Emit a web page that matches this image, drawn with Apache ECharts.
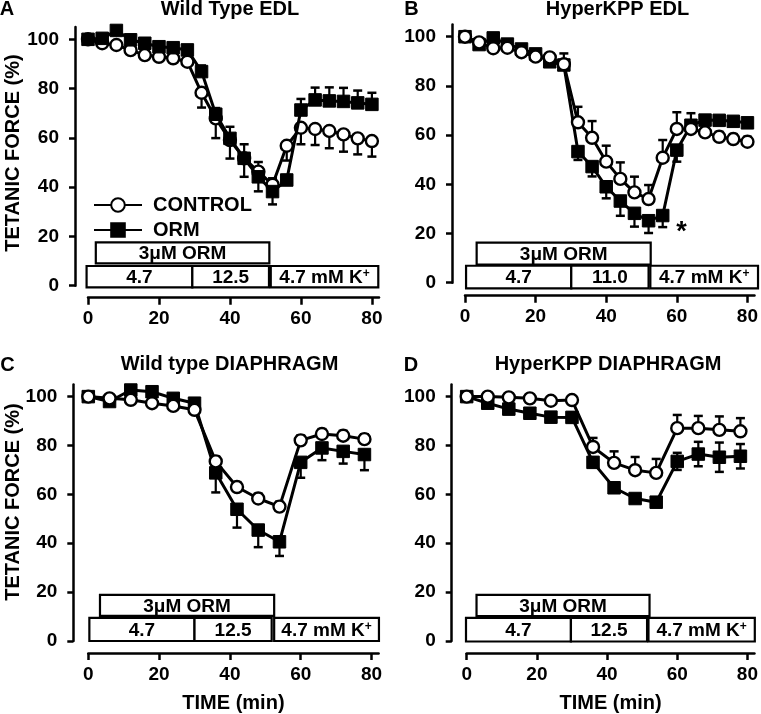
<!DOCTYPE html>
<html><head><meta charset="utf-8">
<script src="https://cdn.jsdelivr.net/npm/echarts@6/dist/echarts.min.js"></script>
<style>html,body{margin:0;padding:0;background:#fff}#c{width:761px;height:714px}</style>
</head><body><div id="c"></div>
<script>
// ---------- DATA ----------
const timeEDL = [0,4,8,12,16,20,24,28,32,36,40,44,48,52,56,60,64,68,72,76,80];
const timeDia = [0,6,12,18,24,30,36,42,48,54,60,66,72,78];

const yTicks = [0,20,40,60,80,100];
const xTicks = [0,20,40,60,80];

// Panel A: Wild Type EDL
const A_control     = [100,98.4,97.7,95.6,93.6,92.9,92.3,90.9,78.3,67.9,59.1,51.7,46.3,41.0,56.8,64.1,63.6,62.8,61.4,59.8,58.7];
const A_control_err = [0,1,1,1,1,1,1,1.5,6,8,7.5,7.5,8,8,6,6.7,6.5,7,7,6.5,6.3];
const A_orm         = [100,100.4,103.6,99.8,98.4,97.0,96.6,95.7,86.9,69.6,59.8,51.7,44.2,38.2,42.9,71.3,75.4,75.0,74.8,74.2,73.6];
const A_orm_err     = [0,1,1,1,1,1,1,1.5,2.5,2.5,4.7,5.7,6,5.4,2,4.5,5,5.5,5.5,5,4.7];

// Panel B: HyperKPP EDL
const B_control     = [100,97.7,95.3,95.5,93.7,91.9,91.6,88.8,65.2,58.9,49.2,42.2,36.7,34.0,50.8,62.5,62.5,61.1,59.3,58.4,57.3];
const B_control_err = [0,1,1,1,1,1,1.5,4.4,6.3,6.8,6.5,6.7,6.4,5.7,7.2,6.8,6.4,2,2,2,2];
const B_orm         = [100,96.8,99.5,97.0,95.0,93.0,89.8,88.5,53.3,47.2,39.0,33.2,28.2,25.2,27.3,53.9,64.0,66.1,66.0,65.6,65.0];
const B_orm_err     = [0,1,1,1,1,1,1,1,3.4,4,4.7,6,5.4,5,4.7,4.7,2,1,1,1,1];

// Panel C: Wild type DIAPHRAGM
const C_control     = [100,99.3,98.7,97.3,96.2,94.6,73.5,63.0,58.3,55.0,82.1,84.7,84.0,82.6];
const C_control_err = [0,1,1,1,1,1,2,2,2,2,2,2,2,2];
const C_orm         = [100,98.0,102.7,102.0,99.3,97.3,68.8,53.9,45.4,40.6,73.1,79.0,77.6,76.3];
const C_orm_err     = [0,1,1,1,1,1,8,7.5,7,5.8,6.3,5,5,6.4];

// Panel D: HyperKPP DIAPHRAGM
const D_control     = [100,100,99.7,99.3,98.3,98.6,79.4,72.9,69.9,68.8,87.1,87.1,86.4,85.8];
const D_control_err = [0,1,1,1,1,1,3.7,4.7,5.4,5.7,5.4,5,5.5,5.4];
const D_orm         = [100,97.3,94.9,93.2,91.6,91.5,73.1,62.7,58.3,56.8,73.5,76.5,75.2,75.6];
const D_orm_err     = [0,1,2,2,2,2,2,1.5,1.5,1.5,3.5,5,6,5];

// Protocol bars (time windows, min)
const ormWindowA = [2.2,51.1], ormWindowB = [3.3,52.6], ormWindowC = [3.3,52.5], ormWindowD = [2.8,52.1];
const kWindowsA = [[-0.4,29.4],[29.4,51.0],[51.5,81.8]];
const kWindowsB = [[0.3,30.1],[30.1,52.0],[52.5,83.0]];
const kWindowsC = [[0.3,30.0],[30.0,51.8],[52.5,82.1]];
const kWindowsD = [[-0.2,29.7],[29.7,51.4],[51.8,82.1]];
const kLabels125 = ['4.7','12.5','4.7 mM K{s|+}'];
const kLabels110 = ['4.7','11.0','4.7 mM K{s|+}'];
const ormLabel = '3μM ORM';
const starPoint = [[61.3, 22.4]];

const titles = ['Wild Type EDL','HyperKPP EDL','Wild type DIAPHRAGM','HyperKPP DIAPHRAGM'];
const letters = ['A','B','C','D'];

// ---------- CHART ----------
const FONT = '"Liberation Sans", Arial, Helvetica, sans-serif';
const chart = echarts.init(document.getElementById('c'), null, {renderer:'canvas'});

const panels = [
  {grid:{left:88, top:27, width:291, height:258.7}, yOff:13, xOff:12, t:timeEDL,
   c:A_control, ce:A_control_err, cd:-1, o:A_orm, oe:A_orm_err, od:1, ormTop:true,
   ormW:ormWindowA, kW:kWindowsA, kL:kLabels125, lo:[-0.65,8.0], hi:[9.1,17.6], xName:''},
  {grid:{left:465, top:24.4, width:290.3, height:258.3}, yOff:13, xOff:13, t:timeEDL,
   c:B_control, ce:B_control_err, cd:1, o:B_orm, oe:B_orm_err, od:-1, ormTop:false,
   ormW:ormWindowB, kW:kWindowsB, kL:kLabels110, lo:[-2.3,6.9], hi:[7.4,16.3], xName:''},
  {grid:{left:88.3, top:384.4, width:290.3, height:257.9}, yOff:15, xOff:12, t:timeDia,
   c:C_control, ce:C_control_err, cd:1, o:C_orm, oe:C_orm_err, od:-1, ormTop:false,
   ormW:ormWindowC, kW:kWindowsC, kL:kLabels125, lo:[0,9.5], hi:[10.3,18.9], xName:'TIME (min)'},
  {grid:{left:466.7, top:384.4, width:291.1, height:257.9}, yOff:15, xOff:12, t:timeDia,
   c:D_control, ce:D_control_err, cd:1, o:D_orm, oe:D_orm_err, od:0, ormTop:false,
   ormW:ormWindowD, kW:kWindowsD, kL:kLabels125, lo:[-0.2,9.5], hi:[10.2,18.9], xName:'TIME (min)'}
];

function errRender(dir){
  return function(params, api){
    const x = api.value(0), y = api.value(1), e = api.value(2);
    const top = dir >= 0 ? y + e : y;
    const bot = dir <= 0 ? y - e : y;
    const pT = api.coord([x, top]), pB = api.coord([x, bot]);
    const ch = [{type:'line', shape:{x1:pT[0], y1:pT[1], x2:pB[0], y2:pB[1]}, style:{stroke:'#000', lineWidth:2.2}}];
    if (dir >= 0) ch.push({type:'line', shape:{x1:pT[0]-4.5, y1:pT[1], x2:pT[0]+4.5, y2:pT[1]}, style:{stroke:'#000', lineWidth:2.5}});
    if (dir <= 0) ch.push({type:'line', shape:{x1:pB[0]-4.5, y1:pB[1], x2:pB[0]+4.5, y2:pB[1]}, style:{stroke:'#000', lineWidth:2.5}});
    return {type:'group', children:ch};
  };
}

function boxRender(labels){
  return function(params, api){
    const x1 = api.value(0), x2 = api.value(1), y1 = api.value(2), y2 = api.value(3);
    const p1 = api.coord([x1, y2]), p2 = api.coord([x2, y1]);
    const w = p2[0]-p1[0], h = p2[1]-p1[1];
    return {type:'group', children:[
      {type:'rect', shape:{x:p1[0], y:p1[1], width:w, height:h}, style:{fill:'#fff', stroke:'#000', lineWidth:2.2}},
      {type:'text', x:p1[0]+w/2, y:p1[1]+h/2+1, style:{text:labels[params.dataIndex], align:'center', verticalAlign:'middle',
        font:'bold 19px '+FONT, fill:'#000',
        rich:{s:{fontSize:12, fontWeight:'bold', fontFamily:FONT, verticalAlign:'top', lineHeight:20}}}}
    ]};
  };
}

const grids = [], xAxes = [], yAxes = [], series = [];
panels.forEach((p, i) => {
  grids.push(p.grid);
  xAxes.push({type:'value', gridIndex:i, min:0, max:82, offset:p.xOff,
    axisLine:{show:true, onZero:false, lineStyle:{color:'#000', width:2.5}},
    axisTick:{show:true, length:7, lineStyle:{color:'#000', width:2.5}, customValues:xTicks},
    axisLabel:{show:true, customValues:xTicks, margin:12, color:'#000', fontSize:19, fontWeight:'bold', fontFamily:FONT},
    splitLine:{show:false},
    name:p.xName, nameLocation:'middle', nameGap:40,
    nameTextStyle:{color:'#000', fontSize:20, fontWeight:'bold', fontFamily:FONT}});
  yAxes.push({type:'value', gridIndex:i, min:0, max:105, offset:p.yOff,
    axisLine:{show:true, onZero:false, lineStyle:{color:'#000', width:2.5}},
    axisTick:{show:true, length:6, lineStyle:{color:'#000', width:2.5}, customValues:yTicks},
    axisLabel:{show:true, customValues:yTicks, margin:16, color:'#000', fontSize:19, fontWeight:'bold', fontFamily:FONT},
    splitLine:{show:false}});

  const ctrlZ = p.ormTop ? 4 : 6, ormZ = p.ormTop ? 6 : 4;
  series.push({type:'custom', name:'ctrlErr'+i, xAxisIndex:i, yAxisIndex:i, z:3, silent:true,
    renderItem:errRender(p.cd), encode:{x:0, y:1},
    data:p.t.map((t,k)=>[t, p.c[k], p.ce[k]])});
  series.push({type:'custom', name:'ormErr'+i, xAxisIndex:i, yAxisIndex:i, z:3, silent:true,
    renderItem:errRender(p.od), encode:{x:0, y:1},
    data:p.t.map((t,k)=>[t, p.o[k], p.oe[k]])});
  series.push({type:'line', name:'CONTROL', xAxisIndex:i, yAxisIndex:i, z:ctrlZ,
    symbol:'circle', symbolSize:12, showAllSymbol:true, animation:false,
    lineStyle:{color:'#000', width:3}, itemStyle:{color:'#fff', borderColor:'#000', borderWidth:2.4},
    data:p.t.map((t,k)=>[t, p.c[k]])});
  series.push({type:'line', name:'ORM', xAxisIndex:i, yAxisIndex:i, z:ormZ,
    symbol:'rect', symbolSize:12.5, showAllSymbol:true, animation:false,
    lineStyle:{color:'#000', width:3}, itemStyle:{color:'#000', borderColor:'#000', borderWidth:1},
    data:p.t.map((t,k)=>[t, p.o[k]])});
  // protocol boxes
  const boxData = p.kW.map(w => [w[0], w[1], p.lo[0], p.lo[1]]);
  series.push({type:'custom', name:'kbox'+i, xAxisIndex:i, yAxisIndex:i, z:8, silent:true, clip:false,
    renderItem:boxRender(p.kL), encode:{x:[0,1], y:[2,3]}, data:boxData});
  series.push({type:'custom', name:'ormbox'+i, xAxisIndex:i, yAxisIndex:i, z:8, silent:true, clip:false,
    renderItem:boxRender([ormLabel]), encode:{x:[0,1], y:[2,3]},
    data:[[p.ormW[0], p.ormW[1], p.hi[0], p.hi[1]]]});
});

// asterisk in panel B
series.push({type:'custom', name:'star', xAxisIndex:1, yAxisIndex:1, z:9, silent:true, clip:false,
  encode:{x:0, y:1}, data:starPoint,
  renderItem:function(params, api){
    const pt = api.coord([api.value(0), api.value(1)]);
    return {type:'text', x:pt[0], y:pt[1]+5, style:{text:'*', align:'center', verticalAlign:'middle', font:'bold 27px '+FONT, fill:'#000'}};
  }});

const gText = (txt, x, y, size, rot) => ({type:'text', x:x, y:y, rotation:rot||0, silent:true,
  style:{text:txt, align:'center', verticalAlign:'middle', textAlign:'center', textVerticalAlign:'middle',
    font:'bold '+size+'px '+FONT, fill:'#000'}});

const option = {
  animation:false,
  backgroundColor:'#fff',
  grid:grids, xAxis:xAxes, yAxis:yAxes, series:series,
  legend:{show:true, data:['CONTROL','ORM'], orient:'vertical', left:88, top:190,
    itemWidth:48, itemHeight:17, itemGap:5, selectedMode:false,
    textStyle:{color:'#000', fontSize:20, fontWeight:'bold', fontFamily:FONT, padding:[0,0,0,6]}},
  graphic:[
    gText(letters[0], 7, 9.5, 20), gText(letters[1], 411.5, 9.5, 20),
    gText(letters[2], 7.5, 365, 20), gText(letters[3], 411, 365, 20),
    gText(titles[0], 230, 9.5, 20), gText(titles[1], 617.5, 9.7, 20),
    gText(titles[2], 229.5, 364.5, 20), gText(titles[3], 608, 364.5, 20),
    gText('TETANIC FORCE (%)', 13, 153, 20, Math.PI/2),
    gText('TETANIC FORCE (%)', 13, 502, 20, Math.PI/2)
  ]
};
chart.setOption(option);
</script>
</body></html>
